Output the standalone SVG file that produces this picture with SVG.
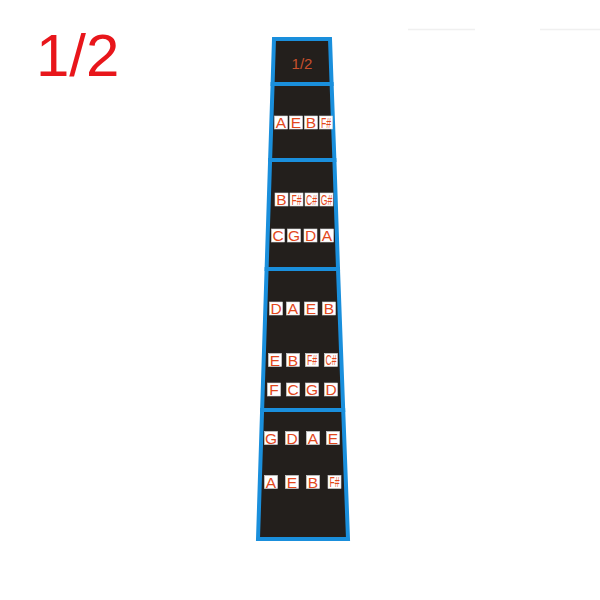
<svg xmlns="http://www.w3.org/2000/svg" width="600" height="600" viewBox="0 0 600 600">
<style>
.sec{fill:#231f1c;stroke:#1a8fdc;stroke-width:4;stroke-linejoin:miter}
.box{fill:#ffffff;stroke:#d9d9d9;stroke-width:0.6}
.n{font-family:"Liberation Sans",Arial,sans-serif;font-size:15.5px;fill:#e2481c;text-anchor:middle}
.s{font-family:"Liberation Sans",Arial,sans-serif;font-size:12px;fill:#e2481c;text-anchor:middle}
</style>
<rect width="600" height="600" fill="#ffffff"/>
<line x1="408" y1="29.5" x2="475" y2="29.5" stroke="#f0f0f0" stroke-width="1.5"/>
<line x1="540" y1="29.5" x2="600" y2="29.5" stroke="#f0f0f0" stroke-width="1.5"/>
<g id="title"><text x="36" y="76" font-family="Liberation Sans,Arial,sans-serif" font-size="60" fill="#e8161b">1/2</text></g>
<g id="fingerboard">
<polygon class="sec" points="274,39 330,39 331.6,84 272.6,84"/>
<polygon class="sec" points="272.6,84 331.6,84 334.4,160 270.1,160"/>
<polygon class="sec" points="270.1,160 334.4,160 338,269 266.6,269"/>
<polygon class="sec" points="266.6,269 338,269 343.2,410 262.1,410"/>
<polygon class="sec" points="262.1,410 343.2,410 348,539 258,539"/>
<text x="302" y="69" font-family="Liberation Sans,Arial,sans-serif" font-size="15" fill="#c8502c" text-anchor="middle">1/2</text>
</g>
<g id="row1">
<rect class="box" x="274.5" y="116" width="13" height="13"/><text class="n" x="281" y="128">A</text>
<rect class="box" x="289.5" y="116" width="13" height="13"/><text class="n" x="296" y="128">E</text>
<rect class="box" x="304.5" y="116" width="13" height="13"/><text class="n" x="311" y="128">B</text>
<rect class="box" x="319.5" y="116" width="13" height="13"/><text class="s" transform="translate(326,127.5) scale(0.72,1.15)">F#</text>
</g>
<g id="row2">
<rect class="box" x="275" y="193" width="13" height="13"/><text class="n" x="281.5" y="205">B</text>
<rect class="box" x="290" y="193" width="13" height="13"/><text class="s" transform="translate(296.5,204.5) scale(0.72,1.15)">F#</text>
<rect class="box" x="305" y="193" width="13" height="13"/><text class="s" transform="translate(311.5,204.5) scale(0.72,1.15)">C#</text>
<rect class="box" x="320" y="193" width="13" height="13"/><text class="s" transform="translate(326.5,204.5) scale(0.72,1.15)">G#</text>
</g>
<g id="row3">
<rect class="box" x="271.5" y="229" width="13" height="13"/><text class="n" x="278" y="241">C</text>
<rect class="box" x="287.5" y="229" width="13" height="13"/><text class="n" x="294" y="241">G</text>
<rect class="box" x="304" y="229" width="13" height="13"/><text class="n" x="310.5" y="241">D</text>
<rect class="box" x="320.5" y="229" width="13" height="13"/><text class="n" x="327" y="241">A</text>
</g>
<g id="row4">
<rect class="box" x="269.5" y="302" width="13" height="13"/><text class="n" x="276" y="314">D</text>
<rect class="box" x="286.5" y="302" width="13" height="13"/><text class="n" x="293" y="314">A</text>
<rect class="box" x="304.5" y="302" width="13" height="13"/><text class="n" x="311" y="314">E</text>
<rect class="box" x="322.5" y="302" width="13" height="13"/><text class="n" x="329" y="314">B</text>
</g>
<g id="row5">
<rect class="box" x="268.5" y="353.5" width="13" height="13"/><text class="n" x="275" y="365.5">E</text>
<rect class="box" x="286.5" y="353.5" width="13" height="13"/><text class="n" x="293" y="365.5">B</text>
<rect class="box" x="305.5" y="353.5" width="13" height="13"/><text class="s" transform="translate(312,365) scale(0.72,1.15)">F#</text>
<rect class="box" x="324.5" y="353.5" width="13" height="13"/><text class="s" transform="translate(331,365) scale(0.72,1.15)">C#</text>
</g>
<g id="row6">
<rect class="box" x="267.5" y="383" width="13" height="13"/><text class="n" x="274" y="395">F</text>
<rect class="box" x="286.5" y="383" width="13" height="13"/><text class="n" x="293" y="395">C</text>
<rect class="box" x="305.5" y="383" width="13" height="13"/><text class="n" x="312" y="395">G</text>
<rect class="box" x="324.5" y="383" width="13" height="13"/><text class="n" x="331" y="395">D</text>
</g>
<g id="row7">
<rect class="box" x="264.5" y="431.5" width="13" height="13"/><text class="n" x="271" y="443.5">G</text>
<rect class="box" x="285.5" y="431.5" width="13" height="13"/><text class="n" x="292" y="443.5">D</text>
<rect class="box" x="306.5" y="431.5" width="13" height="13"/><text class="n" x="313" y="443.5">A</text>
<rect class="box" x="326.5" y="431.5" width="13" height="13"/><text class="n" x="333" y="443.5">E</text>
</g>
<g id="row8">
<rect class="box" x="264.5" y="475.5" width="13" height="13"/><text class="n" x="271" y="487.5">A</text>
<rect class="box" x="285.5" y="475.5" width="13" height="13"/><text class="n" x="292" y="487.5">E</text>
<rect class="box" x="306.5" y="475.5" width="13" height="13"/><text class="n" x="313" y="487.5">B</text>
<rect class="box" x="328" y="475.5" width="13" height="13"/><text class="s" transform="translate(334.5,487) scale(0.72,1.15)">F#</text>
</g>
</svg>
